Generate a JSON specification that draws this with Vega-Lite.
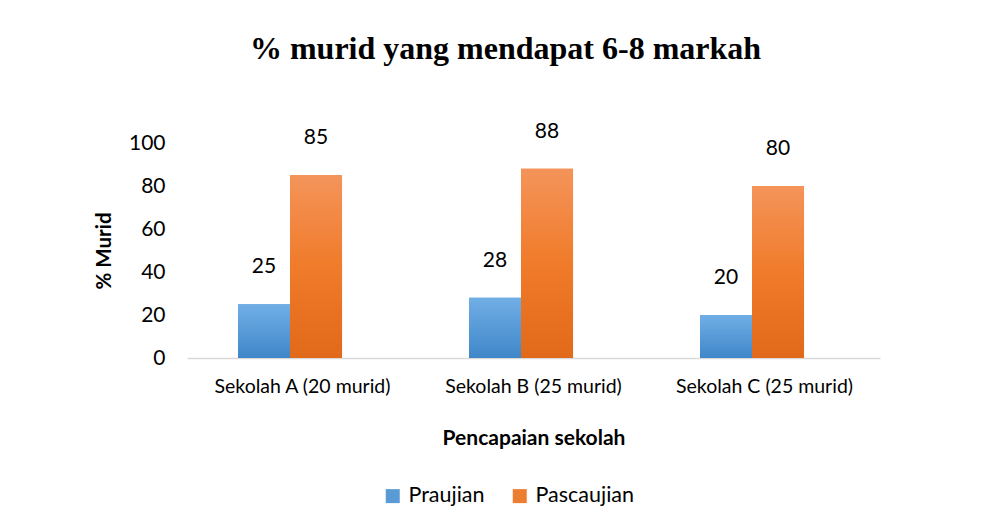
{
  "$schema": "https://vega.github.io/schema/vega-lite/v6.json",
  "autosize": {"type": "none"},
  "width": 693,
  "height": 215,
  "padding": {"left": 187, "top": 143, "right": 110, "bottom": 169},
  "background": "white",
  "config": {"view": {"stroke": null}, "font": "Lato"},
  "title": {
    "text": "% murid yang mendapat 6-8 markah",
    "font": "Liberation Serif",
    "fontSize": 32,
    "fontWeight": "bold",
    "color": "black",
    "anchor": "middle",
    "dx": -28,
    "offset": 55
  },
  "data": {
    "values": [
      {"sekolah": "Sekolah A (20 murid)", "ujian": "Praujian", "peratus": 25},
      {"sekolah": "Sekolah A (20 murid)", "ujian": "Pascaujian", "peratus": 85},
      {"sekolah": "Sekolah B (25 murid)", "ujian": "Praujian", "peratus": 28},
      {"sekolah": "Sekolah B (25 murid)", "ujian": "Pascaujian", "peratus": 88},
      {"sekolah": "Sekolah C (25 murid)", "ujian": "Praujian", "peratus": 20},
      {"sekolah": "Sekolah C (25 murid)", "ujian": "Pascaujian", "peratus": 80}
    ]
  },
  "encoding": {
    "x": {
      "field": "sekolah",
      "type": "nominal",
      "scale": {"paddingInner": 0.4416, "paddingOuter": 0.2208},
      "axis": {
        "title": "Pencapaian sekolah",
        "titleFont": "Lato",
        "titleFontSize": 21,
        "titleFontWeight": "bold",
        "titleColor": "black",
        "titlePadding": 32,
        "labelAngle": 0,
        "labelFontSize": 19.5,
        "labelColor": "black",
        "labelPadding": 19,
        "ticks": false,
        "domainColor": "#d9d9d9",
        "domainWidth": 1.5
      }
    },
    "xOffset": {
      "field": "ujian",
      "type": "nominal",
      "sort": ["Praujian", "Pascaujian"],
      "scale": {"paddingInner": 0, "paddingOuter": 0.24, "align": 0}
    },
    "y": {
      "field": "peratus",
      "type": "quantitative",
      "scale": {"domain": [0, 100]},
      "axis": {
        "title": "% Murid",
        "titleFontSize": 20.5,
        "titleFontWeight": "bold",
        "titleColor": "black",
        "titlePadding": 14,
        "values": [0, 20, 40, 60, 80, 100],
        "labelFontSize": 21,
        "labelColor": "black",
        "labelPadding": 22,
        "ticks": false,
        "domain": false,
        "grid": false
      }
    }
  },
  "layer": [
    {
      "mark": {"type": "bar"},
      "encoding": {
        "color": {
          "field": "ujian",
          "type": "nominal",
          "scale": {"domain": ["Praujian", "Pascaujian"], "range": ["#5B9BD5", "#ED7D31"]},
          "legend": {
            "title": null,
            "orient": "none",
            "direction": "horizontal",
            "legendX": 195,
            "legendY": 342,
            "symbolType": "square",
            "symbolSize": 196,
            "symbolStrokeWidth": 0,
            "labelFontSize": 21.5,
            "labelColor": "black",
            "columnPadding": 24,
            "labelOffset": 5
          }
        }
      }
    },
    {
      "mark": {"type": "bar"},
      "encoding": {
        "fill": {
          "condition": {
            "test": "datum.ujian === 'Praujian'",
            "value": {"x1": 0, "y1": 0, "x2": 0, "y2": 1, "gradient": "linear", "stops": [{"offset": 0, "color": "#71aee6"}, {"offset": 1, "color": "#3f87c9"}]}
          },
          "value": {"x1": 0, "y1": 0, "x2": 0, "y2": 1, "gradient": "linear", "stops": [{"offset": 0, "color": "#f4945a"}, {"offset": 0.5, "color": "#f07b2a"}, {"offset": 1, "color": "#e0691a"}]}
        }
      }
    },
    {
      "mark": {"type": "text", "fontSize": 21, "color": "black", "baseline": "middle", "dy": -37},
      "encoding": {
        "text": {"field": "peratus", "type": "quantitative"}
      }
    }
  ]
}
